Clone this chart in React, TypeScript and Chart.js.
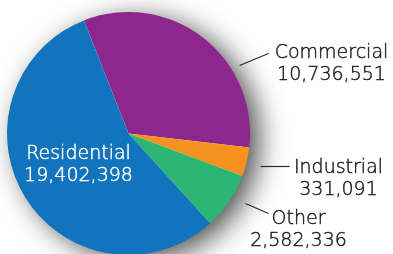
import React, { useEffect, useRef } from "react";
import { Chart, registerables } from "chart.js";

Chart.register(...registerables);

// Categories in drawing order (clockwise from the Commercial edge)
const categories = ["Commercial", "Industrial", "Other", "Residential"];
// Printed values (label text)
const printedValues = [10736551, 331091, 2582336, 19402398];
// Slice shares (%)
const sliceShares = [32.8, 3.86, 7.56, 55.78];
const sliceColors = ["#8D278D", "#F6921E", "#2DB574", "#1274BD"];

const fmt = (v: number) => v.toLocaleString("en-US");

const FONT = '200 19px "DejaVu Sans"';

const shadowPlugin = {
  id: "pieShadow",
  beforeDatasetsDraw(chart: any) {
    const arc = chart.getDatasetMeta(0).data[0];
    if (!arc) return;
    const { x, y, outerRadius } = arc.getProps(["x", "y", "outerRadius"], true);
    const ctx = chart.ctx;
    ctx.save();
    ctx.shadowColor = "rgba(0,0,0,0.7)";
    ctx.shadowBlur = 28;
    ctx.shadowOffsetX = 10;
    ctx.shadowOffsetY = 6;
    ctx.fillStyle = "#ffffff";
    ctx.beginPath();
    ctx.arc(x, y, outerRadius - 1, 0, Math.PI * 2);
    ctx.fill();
    ctx.restore();
  },
};

// label layout: offsets from pie centre (text centre x, first baseline y), leader line
const labelLayout = [
  { dx: 203, dy: -76, color: "#222222", line: [111, -68, 140, -80] },
  { dx: 210, dy: 39, color: "#222222", line: [132, 33, 161, 33] },
  { dx: 170, dy: 90, color: "#222222", line: [117, 70, 140, 80] },
  { dx: -50, dy: 25, color: "#ffffff", line: null as null | number[] },
];

const labelPlugin = {
  id: "sliceLabels",
  afterDatasetsDraw(chart: any) {
    const arc = chart.getDatasetMeta(0).data[0];
    if (!arc) return;
    const { x, y } = arc.getProps(["x", "y"], true);
    const ctx = chart.ctx;
    ctx.save();
    ctx.font = FONT;
    ctx.textAlign = "center";
    ctx.textBaseline = "alphabetic";
    ctx.lineJoin = "round";
    categories.forEach((name, i) => {
      const L = labelLayout[i];
      ctx.fillStyle = L.color;
      ctx.strokeStyle = L.color;
      ctx.lineWidth = 0.45;
      const lines = [name, fmt(printedValues[i])];
      lines.forEach((t, k) => {
        ctx.fillText(t, x + L.dx, y + L.dy + k * 22);
        ctx.strokeText(t, x + L.dx, y + L.dy + k * 22);
      });
      if (L.line) {
        ctx.strokeStyle = "#2a2a2a";
        ctx.lineWidth = 1.2;
        ctx.beginPath();
        ctx.moveTo(x + L.line[0], y + L.line[1]);
        ctx.lineTo(x + L.line[2], y + L.line[3]);
        ctx.stroke();
      }
    });
    ctx.restore();
  },
};

export default function App() {
  const ref = useRef<HTMLCanvasElement | null>(null);
  useEffect(() => {
    document.body.style.margin = "0";
    if (!ref.current) return;
    const chart = new Chart(ref.current, {
      type: "pie",
      data: {
        labels: categories,
        datasets: [
          {
            data: sliceShares,
            backgroundColor: sliceColors,
            borderWidth: 0,
          },
        ],
      },
      options: {
        responsive: false,
        animation: false,
        rotation: -21.5,
        layout: { padding: { left: 7, top: 12, right: 143, bottom: 45 } },
        plugins: {
          legend: { display: false },
          tooltip: { enabled: false },
        },
      },
      plugins: [shadowPlugin, labelPlugin],
    });
    return () => chart.destroy();
  }, []);
  return (
    <div style={{ position: "relative", width: 393, height: 254, overflow: "hidden", background: "#fff" }}>
      <canvas ref={ref} width={393} height={300} style={{ display: "block", width: 393, height: 300 }} />
    </div>
  );
}
